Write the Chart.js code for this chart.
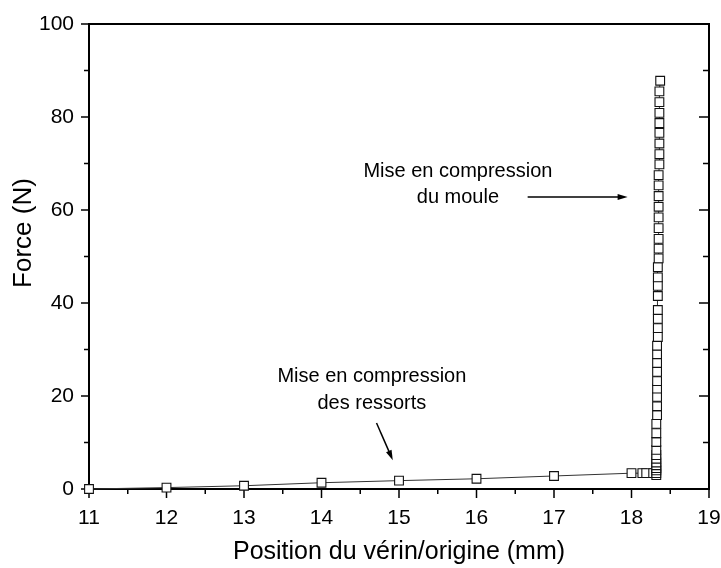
<!DOCTYPE html>
<html>
<head>
<meta charset="utf-8">
<script src="https://cdn.jsdelivr.net/npm/chart.js@4"></script>
<style>
  html, body { margin: 0; padding: 0; background: #fff; }
</style>
</head>
<body>
<canvas id="forceChart" width="721" height="568"></canvas>
<script>
// Position du vérin (mm) and measured force (N)
const positions = [
  11, 12, 13, 14, 15, 16, 17, 18.0, 18.14, 18.19, 18.28,
  18.32, 18.32, 18.32, 18.32, 18.32, 18.32, 18.32, 18.32, 18.32, 18.32, 18.32, 18.32,
  18.33, 18.33, 18.33, 18.33, 18.33, 18.33, 18.33, 18.33, 18.33,
  18.34, 18.34, 18.34, 18.34, 18.34, 18.34, 18.34, 18.34,
  18.35, 18.35, 18.35, 18.35, 18.35, 18.35, 18.35, 18.35, 18.35,
  18.36, 18.36, 18.36, 18.36, 18.36, 18.36, 18.36, 18.36, 18.37
];
const forces = [
  0, 0.3, 0.7, 1.35, 1.8, 2.2, 2.8, 3.4, 3.4, 3.4, 3.4,
  3.0, 3.4, 4.0, 4.5, 5.1, 5.7, 6.5, 7.3, 8.4, 10.1, 12.0, 14.0,
  15.9, 17.8, 19.8, 21.6, 23.2, 25.2, 27.1, 29.0, 30.8,
  32.7, 34.6, 36.6, 38.5, 41.5, 43.7, 45.5, 47.7,
  49.6, 51.7, 53.8, 56.1, 58.4, 60.7, 63.0, 65.3, 67.5,
  69.8, 72.0, 74.3, 76.6, 78.7, 80.9, 83.2, 85.5, 87.8
];

const xTickValues = [11, 12, 13, 14, 15, 16, 17, 18, 19];
const yTickValues = [0, 20, 40, 60, 80, 100];

// text notes, placed in data units
const notes = [
  { lines: ["Mise en compression", "du moule"], x: 15.76, y: [68.2, 62.6],
    arrow: [16.66, 62.8, 17.95, 62.8] },
  { lines: ["Mise en compression", "des ressorts"], x: 14.65, y: [24.1, 18.3],
    arrow: [14.71, 14.2, 14.92, 6.2] }
];

const FONT = "'Liberation Sans', Arial, sans-serif";

const points = positions.map((p, i) => ({ x: p, y: forces[i] }));

// midpoints between major ticks
function minors(vals) {
  const out = [];
  for (let i = 0; i < vals.length - 1; i++) out.push((vals[i] + vals[i + 1]) / 2);
  return out;
}

const framePlugin = {
  id: "frame",
  beforeDatasetsDraw(chart) {
    const { ctx, chartArea: a, scales: { x, y } } = chart;
    ctx.save();
    ctx.strokeStyle = "#000";
    ctx.lineWidth = 2;
    ctx.strokeRect(a.left, a.top, a.right - a.left, a.bottom - a.top);

    ctx.lineWidth = 1.5;
    ctx.beginPath();
    const tick = (x1, y1, x2, y2) => { ctx.moveTo(x1, y1); ctx.lineTo(x2, y2); };
    xTickValues.forEach(v => {
      const px = x.getPixelForValue(v);
      tick(px, a.bottom, px, a.bottom + 9);
    });
    minors(xTickValues).forEach(v => {
      const px = x.getPixelForValue(v);
      tick(px, a.bottom, px, a.bottom + 5);
    });
    yTickValues.forEach(v => {
      const py = y.getPixelForValue(v);
      tick(a.left - 8, py, a.left, py);
      tick(a.right - 10, py, a.right, py);
    });
    minors(yTickValues).forEach(v => {
      const py = y.getPixelForValue(v);
      tick(a.left - 5, py, a.left, py);
      tick(a.right - 6, py, a.right, py);
    });
    ctx.stroke();
    ctx.restore();
  },
  afterDraw(chart) {
    const { ctx, scales: { x, y } } = chart;
    ctx.save();
    ctx.fillStyle = "#000";
    ctx.strokeStyle = "#000";

    // y axis title, sits a bit above the middle like the original
    ctx.font = "26px " + FONT;
    ctx.textAlign = "center";
    ctx.textBaseline = "middle";
    ctx.save();
    ctx.translate(24, 233);
    ctx.rotate(-Math.PI / 2);
    ctx.fillText("Force (N)", 0, 0);
    ctx.restore();

    ctx.font = "20px " + FONT;
    notes.forEach(n => {
      n.lines.forEach((t, i) => {
        ctx.fillText(t, x.getPixelForValue(n.x), y.getPixelForValue(n.y[i]));
      });
      const x1 = x.getPixelForValue(n.arrow[0]), y1 = y.getPixelForValue(n.arrow[1]);
      const x2 = x.getPixelForValue(n.arrow[2]), y2 = y.getPixelForValue(n.arrow[3]);
      const ang = Math.atan2(y2 - y1, x2 - x1);
      ctx.lineWidth = 1.5;
      ctx.beginPath();
      ctx.moveTo(x1, y1);
      ctx.lineTo(x2 - 6 * Math.cos(ang), y2 - 6 * Math.sin(ang));
      ctx.stroke();
      ctx.beginPath();
      ctx.moveTo(x2, y2);
      ctx.lineTo(x2 - 10 * Math.cos(ang) - 3 * Math.sin(ang), y2 - 10 * Math.sin(ang) + 3 * Math.cos(ang));
      ctx.lineTo(x2 - 10 * Math.cos(ang) + 3 * Math.sin(ang), y2 - 10 * Math.sin(ang) - 3 * Math.cos(ang));
      ctx.closePath();
      ctx.fill();
    });
    ctx.restore();
  }
};

const ctx = document.getElementById("forceChart").getContext("2d");
new Chart(ctx, {
  type: "scatter",
  data: {
    datasets: [{
      data: points,
      showLine: true,
      clip: false,
      borderColor: "#333",
      borderWidth: 1,
      pointStyle: "rect",
      pointRadius: 6.2,
      pointHoverRadius: 6.2,
      pointBackgroundColor: "#fff",
      pointBorderColor: "#111",
      pointBorderWidth: 1.1
    }]
  },
  options: {
    responsive: false,
    animation: false,
    events: [],
    layout: { padding: { left: 0, top: 24, right: 12, bottom: 0 } },
    plugins: { legend: { display: false }, tooltip: { enabled: false } },
    scales: {
      x: {
        type: "linear",
        min: 11, max: 19,
        afterBuildTicks: s => { s.ticks = xTickValues.map(v => ({ value: v })); },
        afterFit: s => { s.height = 79; s.paddingLeft = 0; s.paddingRight = 0; },
        grid: { display: false, drawTicks: false },
        border: { display: false },
        ticks: { color: "#000", padding: 17, font: { family: FONT, size: 21 } },
        title: {
          display: true, text: "Position du vérin/origine (mm)", color: "#000",
          font: { family: FONT, size: 25 }, padding: { top: 0, bottom: 1 }
        }
      },
      y: {
        type: "linear",
        min: 0, max: 100,
        afterBuildTicks: s => { s.ticks = yTickValues.map(v => ({ value: v })); },
        afterFit: s => { s.width = 89; s.paddingTop = 0; s.paddingBottom = 0; },
        grid: { display: false, drawTicks: false },
        border: { display: false },
        ticks: { color: "#000", padding: 15, font: { family: FONT, size: 21 } },
        title: { display: false }
      }
    }
  },
  plugins: [framePlugin]
});
</script>
</body>
</html>
